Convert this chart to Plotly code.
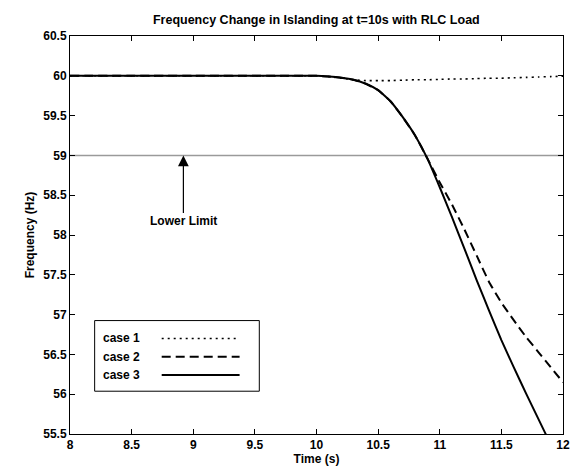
import plotly.graph_objects as go

# Time axis (s) shared by all three cases
t = [8, 9, 10, 10.1, 10.2, 10.3, 10.4, 10.5, 10.6, 10.7, 10.8, 10.9,
     11.0, 11.1, 11.2, 11.3, 11.4, 11.5, 11.6, 11.7, 11.8, 11.9, 12.0]

# Frequency (Hz)
case1 = [60, 60, 60, 59.99, 59.97, 59.95, 59.94, 59.94, 59.94, 59.945, 59.95, 59.95,
         59.955, 59.96, 59.96, 59.965, 59.97, 59.97, 59.975, 59.98, 59.985, 59.99, 59.995]
case2 = [60, 60, 60, 59.99, 59.975, 59.95, 59.9, 59.82, 59.68, 59.48, 59.25, 58.96,
         58.66, 58.38, 58.07, 57.74, 57.41, 57.15, 56.93, 56.72, 56.53, 56.34, 56.15]
case3 = [60, 60, 60, 59.99, 59.975, 59.95, 59.9, 59.82, 59.68, 59.48, 59.25, 58.96,
         58.6, 58.22, 57.83, 57.43, 57.05, 56.68, 56.34, 56.01, 55.69, 55.37, 55.05]

lower_limit = 59
x_ticks = [8, 8.5, 9, 9.5, 10, 10.5, 11, 11.5, 12]
y_ticks = [55.5, 56, 56.5, 57, 57.5, 58, 58.5, 59, 59.5, 60, 60.5]

FONT = "Liberation Sans"
DOT = '2px,4px'
DASH = '9px,5px'

fig = go.Figure()

# Lower limit reference line
fig.add_trace(go.Scatter(x=[x_ticks[0], x_ticks[-1]], y=[lower_limit, lower_limit],
                         mode='lines', line=dict(color='#9a9a9a', width=1.5),
                         showlegend=False, hoverinfo='skip'))

fig.add_trace(go.Scatter(x=t, y=case1, mode='lines', name='case 1',
                         line=dict(color='black', width=1.6, dash=DOT, shape='spline', smoothing=0.4)))
fig.add_trace(go.Scatter(x=t, y=case2, mode='lines', name='case 2',
                         line=dict(color='black', width=2, dash=DASH, shape='spline', smoothing=0.4)))
fig.add_trace(go.Scatter(x=t, y=case3, mode='lines', name='case 3',
                         line=dict(color='black', width=2, shape='spline', smoothing=0.4)))

# Hand-made legend box (text on the left, line sample on the right, as in MATLAB)
shapes = [dict(type='rect', xref='paper', yref='paper', x0=0.05, x1=0.384,
               y0=0.1075, y1=0.285, line=dict(color='black', width=1),
               fillcolor='white', layer='above')]
legend_rows = [('case 1', DOT, 1.6), ('case 2', DASH, 2), ('case 3', 'solid', 2)]
legend_y = [0.24, 0.194, 0.148]
annotations = []
for (label, dash, width), yy in zip(legend_rows, legend_y):
    annotations.append(dict(x=0.062, y=yy, xref='paper', yref='paper', text=label,
                            showarrow=False, xanchor='left', yanchor='middle',
                            font=dict(family=FONT, size=12, color='black', weight='bold')))
    shapes.append(dict(type='line', xref='paper', yref='paper', x0=0.186, x1=0.344,
                       y0=yy, y1=yy, layer='above',
                       line=dict(color='black', width=width, dash=dash)))

# Lower limit arrow label
annotations.append(dict(x=8.92, y=lower_limit, ax=8.92, ay=58.17, axref='x', ayref='y',
                        text='Lower Limit', showarrow=True, arrowhead=2, arrowsize=1.8,
                        arrowwidth=1.2, arrowcolor='black',
                        font=dict(family=FONT, size=12, color='black', weight='bold')))

axis_common = dict(showline=True, linecolor='black', linewidth=1, mirror='ticks',
                   ticks='inside', ticklen=5, tickcolor='black', showgrid=False,
                   zeroline=False,
                   tickfont=dict(family=FONT, size=12, color='black', weight='bold'))

# The page body adds an 8px offset, so the figure is sized to end at the window edge
fig.update_layout(
    width=571, height=463,
    margin=dict(l=62, r=9, t=28, b=35),
    paper_bgcolor='white', plot_bgcolor='white',
    showlegend=False,
    title=dict(text='Frequency Change in Islanding at t=10s with RLC Load',
               x=0.54, xanchor='center', y=0.975, yanchor='middle',
               font=dict(family=FONT, size=12.5, color='black', weight='bold')),
    xaxis=dict(range=[8, 12], tickvals=x_ticks, ticktext=[f'{v:g}' for v in x_ticks],
               title=dict(text='Time (s)', standoff=1,
                          font=dict(family=FONT, size=12, color='black', weight='bold')),
               **axis_common),
    yaxis=dict(range=[55.5, 60.5], tickvals=y_ticks, ticktext=[f'{v:g}' for v in y_ticks],
               title=dict(text='Frequency (Hz)', standoff=6,
                          font=dict(family=FONT, size=12, color='black', weight='bold')),
               **axis_common),
    shapes=shapes,
    annotations=annotations,
)

fig.write_html("out.html")
